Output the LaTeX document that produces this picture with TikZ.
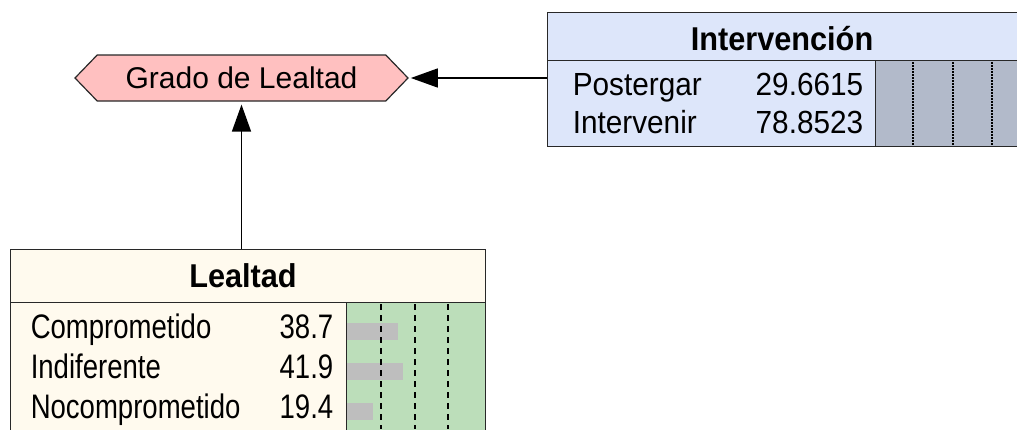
\documentclass[tikz,border=0pt]{standalone}
\usepackage{fontspec}
\setmainfont{Liberation Sans}
\newfontfamily\lealfont[FakeStretch=0.81]{Liberation Sans}
\newfontfamily\intvfont[FakeStretch=0.93]{Liberation Sans}
\usepackage{xcolor}
\definecolor{colorUtility}{RGB}{255,192,192}
\definecolor{colorDecision}{RGB}{221,230,250}
\definecolor{colorDecisionBar}{RGB}{178,186,202}
\definecolor{colorChance}{RGB}{255,250,238}
\definecolor{colorChanceBar}{RGB}{188,222,186}
\definecolor{colorBar}{RGB}{190,190,190}
\definecolor{colorBorder}{RGB}{40,40,40}
\usetikzlibrary{arrows.meta, shapes.symbols}

\begin{document}
\begin{tikzpicture}[x=1pt, y=-1pt, >={Triangle[length=27pt, width=19pt]}, line width=1.5pt,
  cell/.style={draw=colorBorder, line width=1.4pt, inner sep=0pt, anchor=north west},
  lealrow/.style={inner sep=0pt, font=\lealfont\fontsize{34}{38}\selectfont},
  intvrow/.style={inner sep=0pt, font=\intvfont\fontsize{32}{36}\selectfont},
  head/.style={inner sep=0pt, anchor=base, font=\intvfont\bfseries\fontsize{33}{38}\selectfont},
  gridA/.style={line width=1.8pt, dash pattern=on 6pt off 5pt},
  gridB/.style={line width=1.2pt, dash pattern=on 1.5pt off 1.5pt}]
\useasboundingbox (0,0) rectangle (1017,429);
\clip (0,0) rectangle (1017,429);
\fill[white] (0,0) rectangle (1017,429);

\node[signal, signal to=west and east, signal pointer angle=92, draw=colorBorder, fill=colorUtility, minimum width=333pt, minimum height=46pt, inner sep=0pt, line width=1.2pt, font=\fontsize{30}{34}\selectfont] (grado) at (241.5,78) {Grado de Lealtad};

\node[cell, fill=colorDecision, minimum width=480pt, minimum height=48pt] (intvHead) at (547,12) {};
\node[head] (intvTitle) at (782,50) {Intervención};
\node[cell, fill=colorDecision, minimum width=328pt, minimum height=86pt] (intvBody) at (547,60) {};
\node[cell, fill=colorDecisionBar, minimum width=160pt, minimum height=86pt] (intvBars) at (875,60) {};
\draw[gridB] (913,62) -- (913,146);
\draw[gridB] (953,62) -- (953,146);
\draw[gridB] (992,62) -- (992,146);
\node[intvrow, anchor=base west] (intvRowA) at (572,95) {Postergar};
\node[intvrow, anchor=base east] (intvValA) at (864,95) {29.6615};
\node[intvrow, anchor=base west] (intvRowB) at (572,133) {Intervenir};
\node[intvrow, anchor=base east] (intvValB) at (864,133) {78.8523};

\node[cell, fill=colorChance, minimum width=475pt, minimum height=53pt] (lealHead) at (10,249) {};
\node[head] (lealTitle) at (243,287) {Lealtad};
\node[cell, fill=colorChance, minimum width=336pt, minimum height=140pt] (lealBody) at (10,302) {};
\node[cell, fill=colorChanceBar, minimum width=139pt, minimum height=140pt] (lealBars) at (346,302) {};
\fill[colorBar] (347,323) rectangle (398,340);
\fill[colorBar] (347,363) rectangle (403,380);
\fill[colorBar] (347,403) rectangle (373,420);
\draw[gridA] (381,304) -- (381,429);
\draw[gridA] (415,304) -- (415,429);
\draw[gridA] (448,304) -- (448,429);
\node[lealrow, anchor=base west] (lealRowA) at (30,338) {Comprometido};
\node[lealrow, anchor=base east] (lealValA) at (334,338) {38.7};
\node[lealrow, anchor=base west] (lealRowB) at (30,378) {Indiferente};
\node[lealrow, anchor=base east] (lealValB) at (334,378) {41.9};
\node[lealrow, anchor=base west] (lealRowC) at (30,418) {Nocomprometido};
\node[lealrow, anchor=base east] (lealValC) at (334,418) {19.4};

\draw[->, shorten >=2pt] (intvBody.west |- grado.east) -- (grado.east);
\draw[->, shorten >=3pt] (grado.south |- lealHead.north) -- (grado.south);
\end{tikzpicture}
\end{document}
